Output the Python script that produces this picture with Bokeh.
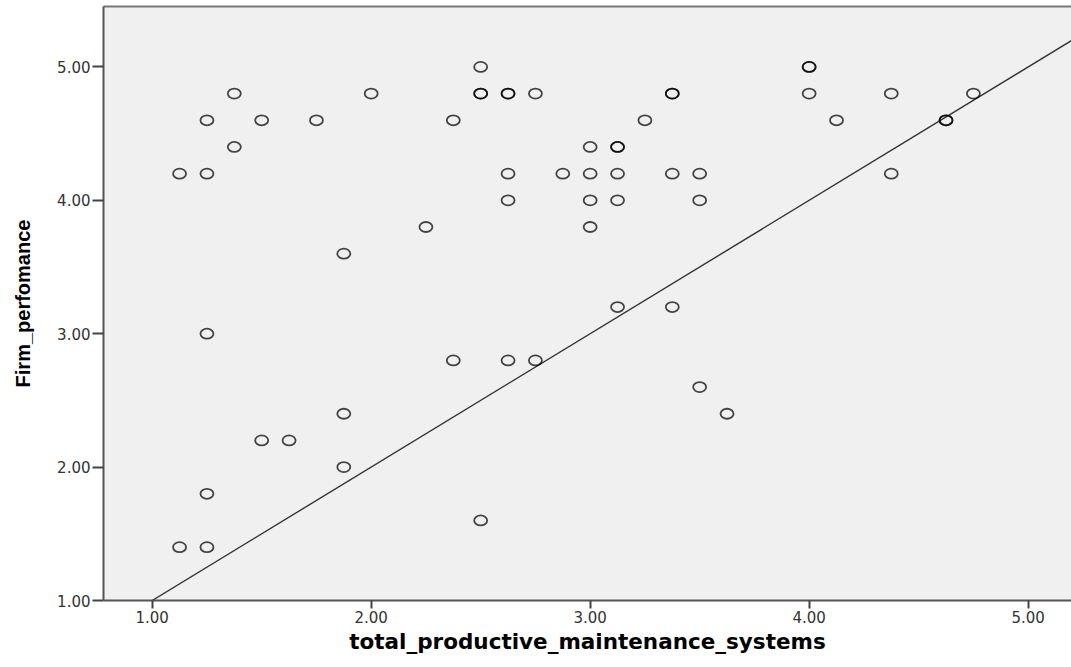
from bokeh.plotting import figure
from bokeh.models import (ColumnDataSource, FixedTicker, NumeralTickFormatter,
                          Range1d, LinearAxis)
from bokeh.embed import file_html
from bokeh.resources import INLINE

# ---- data ----
tpm = [1.125, 1.125, 1.25, 1.25, 1.25, 1.25, 1.25, 1.375, 1.375, 1.5, 1.5,
       1.625, 1.75, 1.875, 1.875, 1.875, 2.0, 2.25, 2.375, 2.375,
       2.5, 2.5, 2.5, 2.5, 2.625, 2.625, 2.625, 2.625, 2.625, 2.75, 2.75,
       2.875, 3.0, 3.0, 3.0, 3.0, 3.125, 3.125, 3.125, 3.125, 3.125,
       3.25, 3.375, 3.375, 3.375, 3.375, 3.5, 3.5, 3.5, 3.625,
       4.0, 4.0, 4.0, 4.125, 4.375, 4.375, 4.625, 4.625, 4.75]
firm = [4.2, 1.4, 4.6, 4.2, 3.0, 1.8, 1.4, 4.8, 4.4, 4.6, 2.2,
        2.2, 4.6, 3.6, 2.4, 2.0, 4.8, 3.8, 4.6, 2.8,
        5.0, 4.8, 4.8, 1.6, 4.8, 4.8, 4.2, 4.0, 2.8, 4.8, 2.8,
        4.2, 4.4, 4.2, 4.0, 3.8, 4.4, 4.4, 4.2, 4.0, 3.2,
        4.6, 4.8, 4.8, 4.2, 3.2, 4.2, 4.0, 2.6, 2.4,
        5.0, 5.0, 4.8, 4.6, 4.8, 4.2, 4.6, 4.6, 4.8]
ref_x = [1.0, 5.3]
ref_y = [1.0, 5.3]
tick_values = [1.0, 2.0, 3.0, 4.0, 5.0]

src = ColumnDataSource(dict(x=tpm, y=firm))

p = figure(width=1071, height=667, output_backend="svg", toolbar_location=None,
           x_range=Range1d(0.7776, 5.198), y_range=Range1d(1.0, 5.453),
           min_border_left=103, min_border_right=0, min_border_top=6,
           min_border_bottom=67)
p.border_fill_color = "white"
p.outline_line_color = None
p.grid.visible = False
p.background_fill_color = "#f0f0f0"

p.line(ref_x, ref_y, line_color="#333333", line_width=1.4)
p.ellipse(x="x", y="y", width=13, height=10, width_units="screen",
          height_units="screen", fill_color=None, line_color="black",
          line_alpha=0.72, line_width=1.8, source=src)

for ax in (p.xaxis[0], p.yaxis[0]):
    ax.ticker = FixedTicker(ticks=tick_values)
    ax.formatter = NumeralTickFormatter(format="0.00")
    ax.minor_tick_line_color = None
    ax.axis_line_color = "#555555"
    ax.axis_line_width = 2
    ax.major_tick_line_color = "#444444"
    ax.major_tick_line_width = 2
    ax.major_tick_in = 0
    ax.major_label_text_font = "DejaVu Sans"
    ax.major_label_text_font_size = "15px"
    ax.major_label_text_color = "#333333"
    ax.axis_label_text_font_style = "bold"
    ax.axis_label_text_color = "black"

p.xaxis.major_tick_out = 8
p.xaxis.major_label_standoff = 2
p.xaxis.axis_label = "total_productive_maintenance_systems"
p.xaxis.axis_label_text_font = "DejaVu Sans"
p.xaxis.axis_label_text_font_size = "21.5px"
p.xaxis.axis_label_standoff = 3

p.yaxis.major_tick_out = 11
p.yaxis.major_label_standoff = 2
p.yaxis.axis_label = "Firm_perfomance"
p.yaxis.axis_label_text_font = "Liberation Sans"
p.yaxis.axis_label_text_font_size = "20px"
p.yaxis.axis_label_standoff = 20

top = LinearAxis(ticker=FixedTicker(ticks=[]), axis_line_color="#777777",
                 axis_line_width=2, major_tick_line_color=None,
                 minor_tick_line_color=None, major_tick_out=0,
                 minor_tick_out=0, major_label_standoff=0)
p.add_layout(top, "above")

open("out.html", "w").write(file_html(p, INLINE))
